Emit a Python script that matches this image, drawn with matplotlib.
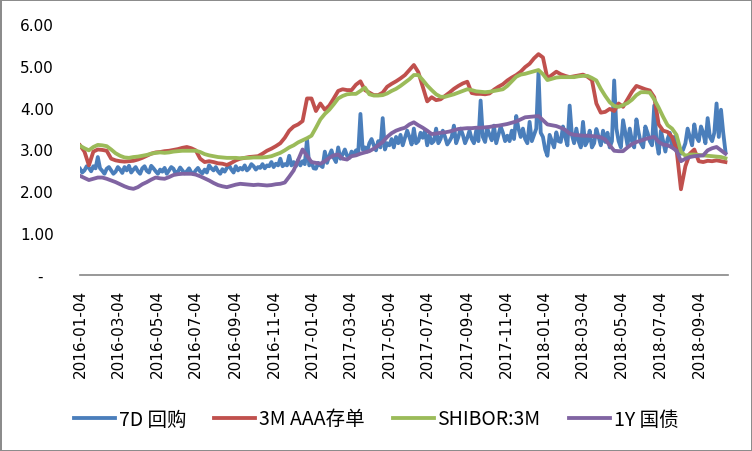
import matplotlib
matplotlib.use("Agg")
import matplotlib.pyplot as plt
import matplotlib.dates as mdates
import pandas as pd

# 7D repo read twice a week, the other three weekly (2016-01-04 .. 2018-10-15)
dates_7d = pd.date_range("2016-01-04", periods=291, freq="84h")
dates = pd.date_range("2016-01-04", periods=146, freq="7D")

repo_7d = [
    2.54, 2.45, 2.50, 2.60, 2.56, 2.48, 2.60, 2.55, 2.82, 2.55,
    2.49, 2.42, 2.54, 2.58, 2.50, 2.42, 2.47, 2.58, 2.52, 2.44,
    2.58, 2.50, 2.61, 2.45, 2.52, 2.58, 2.48, 2.42, 2.55, 2.60,
    2.49, 2.45, 2.61, 2.55, 2.48, 2.42, 2.52, 2.47, 2.56, 2.42,
    2.50, 2.58, 2.54, 2.42, 2.47, 2.57, 2.50, 2.43, 2.48, 2.55,
    2.45, 2.42, 2.50, 2.56, 2.47, 2.43, 2.52, 2.45, 2.62, 2.55,
    2.50, 2.58, 2.48, 2.42, 2.53, 2.47, 2.56, 2.62, 2.52, 2.45,
    2.60, 2.50, 2.56, 2.52, 2.62, 2.50, 2.55, 2.65, 2.60, 2.52,
    2.58, 2.56, 2.65, 2.55, 2.62, 2.60, 2.70, 2.58, 2.66, 2.62,
    2.78, 2.60, 2.65, 2.62, 2.85, 2.62, 2.70, 2.60, 2.75, 2.62,
    2.72, 2.65, 3.25, 2.62, 2.70, 2.55, 2.54, 2.68, 2.62, 2.58,
    2.95, 2.68, 2.85, 2.98, 2.80, 2.70, 3.05, 2.78, 2.88, 3.00,
    2.85, 2.80, 2.95, 2.88, 2.98, 2.92, 3.85, 3.00, 3.05, 2.95,
    3.15, 3.25, 3.10, 2.98, 3.20, 3.05, 3.75, 3.00, 3.15, 3.10,
    3.25, 3.05, 3.30, 3.15, 3.35, 3.10, 3.28, 3.45, 3.30, 3.12,
    3.50, 3.15, 3.20, 3.40, 3.28, 3.45, 3.10, 3.35, 3.15, 3.20,
    3.50, 3.15, 3.25, 3.45, 3.30, 3.12, 3.20, 3.30, 3.57, 3.15,
    3.30, 3.50, 3.35, 3.15, 3.28, 3.45, 3.25, 3.15, 3.45, 3.20,
    4.17, 3.30, 3.18, 3.50, 3.35, 3.22, 3.57, 3.15, 3.35, 3.55,
    3.40, 3.20, 3.33, 3.20, 3.45, 3.25, 3.80, 3.50, 3.30, 3.50,
    3.25, 3.15, 3.66, 3.20, 3.35, 3.50, 4.85, 3.40, 3.30, 3.00,
    2.85, 3.35, 3.20, 3.05, 3.41, 3.20, 3.18, 3.55, 3.30, 3.10,
    4.05, 3.35, 3.15, 3.50, 3.20, 3.05, 3.66, 3.10, 3.20, 3.45,
    3.05, 3.15, 3.49, 3.30, 3.10, 3.45, 3.18, 3.40, 3.05, 3.20,
    4.65, 3.50, 3.20, 3.05, 3.70, 3.40, 3.10, 3.50, 3.20, 3.05,
    3.72, 3.40, 3.15, 3.05, 3.55, 3.40, 3.20, 3.10, 4.05, 3.20,
    2.90, 3.45, 3.20, 2.95, 3.25, 3.40, 3.05, 3.30, 2.95, 3.10,
    2.90, 3.00, 3.15, 3.50, 3.30, 3.10, 3.60, 3.30, 3.20, 3.55,
    3.40, 3.15, 3.75, 3.30, 3.20, 3.40, 4.10, 3.30, 3.95, 3.40,
    2.95,
]

cd_aaa_3m = [
    3.10, 2.95, 2.62, 2.95, 3.00, 2.99, 2.97, 2.78, 2.74, 2.72,
    2.71, 2.72, 2.73, 2.76, 2.80, 2.85, 2.90, 2.93, 2.94, 2.96,
    2.97, 2.99, 3.01, 3.04, 3.06, 3.03, 2.98, 2.78, 2.70, 2.72,
    2.70, 2.67, 2.66, 2.63, 2.68, 2.74, 2.78, 2.80, 2.82, 2.83,
    2.84, 2.90, 2.97, 3.02, 3.08, 3.15, 3.28, 3.45, 3.55, 3.60,
    3.68, 4.22, 4.22, 3.92, 4.10, 3.95, 4.05, 4.22, 4.40, 4.44,
    4.42, 4.42, 4.55, 4.63, 4.42, 4.36, 4.30, 4.30, 4.36, 4.50,
    4.57, 4.63, 4.70, 4.78, 4.90, 5.02, 4.85, 4.50, 4.15, 4.25,
    4.18, 4.20, 4.28, 4.36, 4.45, 4.52, 4.58, 4.62, 4.35, 4.33,
    4.33, 4.32, 4.34, 4.43, 4.50, 4.56, 4.65, 4.72, 4.78, 4.86,
    4.97, 5.05, 5.18, 5.28, 5.20, 4.70, 4.78, 4.86, 4.80, 4.76,
    4.73, 4.75, 4.77, 4.79, 4.74, 4.66, 4.10, 3.88, 3.90, 3.97,
    3.92, 4.10, 4.02, 4.20, 4.38, 4.52, 4.48, 4.44, 4.41, 4.25,
    3.60, 3.45, 3.42, 3.30, 3.01, 2.05, 2.60, 2.90, 3.00, 2.72,
    2.70, 2.73, 2.72, 2.74, 2.72, 2.70,
]

shibor_3m = [
    3.09, 3.03, 2.98, 3.06, 3.11, 3.10, 3.08, 3.00, 2.91, 2.85,
    2.81, 2.80, 2.82, 2.83, 2.85, 2.87, 2.90, 2.92, 2.93, 2.92,
    2.93, 2.95, 2.96, 2.97, 2.97, 2.97, 2.97, 2.94, 2.89, 2.86,
    2.84, 2.82, 2.81, 2.80, 2.80, 2.80, 2.79, 2.80, 2.80, 2.81,
    2.81, 2.81, 2.82, 2.84, 2.88, 2.92, 2.98, 3.05, 3.10, 3.17,
    3.22, 3.27, 3.33, 3.52, 3.72, 3.85, 3.95, 4.08, 4.22, 4.28,
    4.32, 4.33, 4.33, 4.40, 4.48, 4.32, 4.29, 4.29, 4.30, 4.34,
    4.40, 4.45, 4.52, 4.60, 4.68, 4.78, 4.78, 4.66, 4.53, 4.42,
    4.32, 4.26, 4.26, 4.29, 4.32, 4.36, 4.40, 4.44, 4.42, 4.39,
    4.38, 4.37, 4.38, 4.40, 4.42, 4.44, 4.52, 4.63, 4.74, 4.79,
    4.81, 4.84, 4.87, 4.90, 4.80, 4.66, 4.69, 4.72, 4.73, 4.73,
    4.73, 4.73, 4.75, 4.76, 4.76, 4.71, 4.65, 4.45, 4.28, 4.13,
    4.04, 4.02, 4.06, 4.11, 4.19, 4.30, 4.37, 4.37, 4.36, 4.20,
    4.00, 3.78, 3.58, 3.50, 3.35, 2.95, 2.85, 2.88, 2.88, 2.87,
    2.86, 2.85, 2.84, 2.83, 2.82, 2.79,
]

bond_1y = [
    2.37, 2.32, 2.27, 2.30, 2.33, 2.33, 2.30, 2.26, 2.22, 2.17,
    2.12, 2.08, 2.06, 2.10, 2.17, 2.22, 2.28, 2.33, 2.31, 2.30,
    2.34, 2.39, 2.41, 2.42, 2.42, 2.42, 2.40, 2.36, 2.31, 2.26,
    2.20, 2.15, 2.12, 2.10, 2.13, 2.16, 2.18, 2.17, 2.16, 2.15,
    2.16, 2.15, 2.14, 2.15, 2.17, 2.18, 2.21, 2.35, 2.50, 2.75,
    3.00, 2.85, 2.70, 2.68, 2.66, 2.72, 2.80, 2.86, 2.88, 2.78,
    2.76, 2.84, 2.86, 2.90, 2.93, 2.96, 3.02, 3.10, 3.18, 3.30,
    3.39, 3.45, 3.49, 3.52, 3.60, 3.65, 3.58, 3.52, 3.45, 3.37,
    3.38, 3.40, 3.41, 3.43, 3.46, 3.49, 3.50, 3.51, 3.51, 3.52,
    3.52, 3.53, 3.54, 3.56, 3.57, 3.59, 3.61, 3.64, 3.67, 3.72,
    3.77, 3.78, 3.79, 3.80, 3.70, 3.60, 3.58, 3.56, 3.52, 3.47,
    3.38, 3.35, 3.34, 3.33, 3.33, 3.32, 3.31, 3.29, 3.24, 3.10,
    2.97, 2.96, 2.96, 3.05, 3.13, 3.18, 3.21, 3.25, 3.28, 3.30,
    3.18, 3.12, 3.10, 3.05, 2.97, 2.72, 2.78, 2.82, 2.84, 2.85,
    2.86, 2.98, 3.03, 3.06, 2.98, 2.90,
]

series_names = ["7D 回购", "3M AAA存单", "SHIBOR:3M", "1Y 国债"]
series_dates = [dates_7d, dates, dates, dates]
series_values = [repo_7d, cd_aaa_3m, shibor_3m, bond_1y]
colors = ["#4A7EBB", "#C0504D", "#9BBB59", "#8064A2"]

y_ticks = [0, 1, 2, 3, 4, 5, 6]
y_labels = ["-  ", "1.00", "2.00", "3.00", "4.00", "5.00", "6.00"]

fig = plt.figure(figsize=(7.52, 4.52), dpi=100, edgecolor="#8C8C8C", linewidth=2)
ax = fig.add_axes([80 / 752, 1 - 276 / 452, 648 / 752, 251 / 452])

for name, d, vals, c in zip(series_names, series_dates, series_values, colors):
    ax.plot(d, vals, color=c, lw=2.75, label=name, solid_joinstyle="round")

ax.set_ylim(0, 6)
ax.set_xlim(pd.Timestamp("2016-01-04"), pd.Timestamp("2018-10-19"))
ax.set_yticks(y_ticks)
ax.set_yticklabels(y_labels)

ax.xaxis.set_major_locator(mdates.MonthLocator(bymonth=[1, 3, 5, 7, 9, 11], bymonthday=4))
ax.xaxis.set_major_formatter(mdates.DateFormatter("%Y-%m-%d"))
for lbl in ax.get_xticklabels():
    lbl.set_rotation(90)

for s in ["top", "right", "left"]:
    ax.spines[s].set_visible(False)
ax.spines["bottom"].set_color("#868686")
ax.spines["bottom"].set_linewidth(1.2)
ax.tick_params(axis="both", length=0, labelsize=11, colors="black")
ax.tick_params(axis="y", pad=19)
ax.tick_params(axis="x", pad=10)

fig.legend(loc="center", bbox_to_anchor=(0.5, 1 - 420 / 452), ncol=4, frameon=False,
           prop={"family": ["Noto Sans CJK SC", "DejaVu Sans"], "size": 14},
           handlelength=2.1, handletextpad=0.2, columnspacing=1.45)

fig.savefig("out.png", dpi=100)
